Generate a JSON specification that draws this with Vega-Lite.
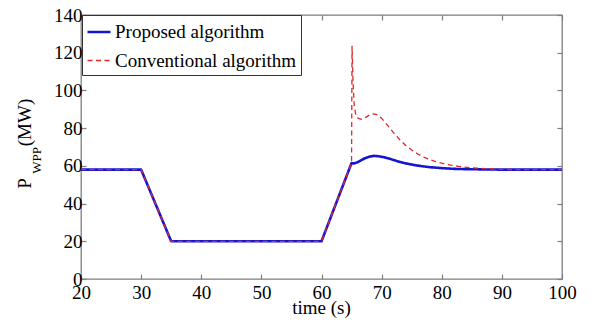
{
  "$schema": "https://vega.github.io/schema/vega-lite/v6.json",
  "width": 481,
  "height": 264,
  "autosize": "none",
  "padding": {"left": 81, "top": 15, "right": 29, "bottom": 51},
  "background": "white",
  "config": {
    "font": "Liberation Serif",
    "view": {"stroke": "#7f7f7f", "strokeWidth": 1.3},
    "axis": {
      "labelFont": "Liberation Serif",
      "titleFont": "Liberation Serif",
      "labelFontSize": 19,
      "titleFontSize": 19,
      "labelColor": "#000000",
      "titleColor": "#000000",
      "titleFontWeight": "normal",
      "labelFlush": false,
      "labelOverlap": false,
      "domain": false,
      "grid": false,
      "tickColor": "#7f7f7f",
      "tickWidth": 1.2
    }
  },
  "data": {
    "values": [
      {"t": 20, "P": 58, "s": "Proposed algorithm"},
      {"t": 30, "P": 58, "s": "Proposed algorithm"},
      {"t": 35, "P": 20, "s": "Proposed algorithm"},
      {"t": 60, "P": 20, "s": "Proposed algorithm"},
      {"t": 65, "P": 61.5, "s": "Proposed algorithm"},
      {"t": 65.4, "P": 61.3, "s": "Proposed algorithm"},
      {"t": 65.9, "P": 61.8, "s": "Proposed algorithm"},
      {"t": 66.5, "P": 62.8, "s": "Proposed algorithm"},
      {"t": 67.2, "P": 64.0, "s": "Proposed algorithm"},
      {"t": 68, "P": 64.9, "s": "Proposed algorithm"},
      {"t": 68.7, "P": 65.3, "s": "Proposed algorithm"},
      {"t": 69.5, "P": 65.1, "s": "Proposed algorithm"},
      {"t": 70.5, "P": 64.5, "s": "Proposed algorithm"},
      {"t": 71.5, "P": 63.6, "s": "Proposed algorithm"},
      {"t": 72.5, "P": 62.6, "s": "Proposed algorithm"},
      {"t": 73.5, "P": 61.7, "s": "Proposed algorithm"},
      {"t": 74.5, "P": 61.0, "s": "Proposed algorithm"},
      {"t": 75.5, "P": 60.4, "s": "Proposed algorithm"},
      {"t": 76.5, "P": 59.9, "s": "Proposed algorithm"},
      {"t": 78, "P": 59.3, "s": "Proposed algorithm"},
      {"t": 80, "P": 58.8, "s": "Proposed algorithm"},
      {"t": 82, "P": 58.4, "s": "Proposed algorithm"},
      {"t": 85, "P": 58.2, "s": "Proposed algorithm"},
      {"t": 90, "P": 58.0, "s": "Proposed algorithm"},
      {"t": 100, "P": 58.0, "s": "Proposed algorithm"},
      {"t": 20, "P": 58, "s": "Conventional algorithm"},
      {"t": 30, "P": 58, "s": "Conventional algorithm"},
      {"t": 35, "P": 20, "s": "Conventional algorithm"},
      {"t": 60, "P": 20, "s": "Conventional algorithm"},
      {"t": 65, "P": 61.5, "s": "Conventional algorithm"},
      {"t": 65.08, "P": 123.5, "s": "Conventional algorithm"},
      {"t": 65.25, "P": 104, "s": "Conventional algorithm"},
      {"t": 65.45, "P": 92, "s": "Conventional algorithm"},
      {"t": 65.7, "P": 87, "s": "Conventional algorithm"},
      {"t": 66.1, "P": 85.2, "s": "Conventional algorithm"},
      {"t": 66.7, "P": 84.6, "s": "Conventional algorithm"},
      {"t": 67.3, "P": 85.6, "s": "Conventional algorithm"},
      {"t": 68, "P": 87, "s": "Conventional algorithm"},
      {"t": 68.6, "P": 87.6, "s": "Conventional algorithm"},
      {"t": 69.2, "P": 87.2, "s": "Conventional algorithm"},
      {"t": 70, "P": 85.2, "s": "Conventional algorithm"},
      {"t": 71, "P": 81.5, "s": "Conventional algorithm"},
      {"t": 72, "P": 77.5, "s": "Conventional algorithm"},
      {"t": 73, "P": 74, "s": "Conventional algorithm"},
      {"t": 74, "P": 70.8, "s": "Conventional algorithm"},
      {"t": 75, "P": 68.4, "s": "Conventional algorithm"},
      {"t": 76, "P": 66.3, "s": "Conventional algorithm"},
      {"t": 77, "P": 64.6, "s": "Conventional algorithm"},
      {"t": 78, "P": 63.3, "s": "Conventional algorithm"},
      {"t": 79, "P": 62.3, "s": "Conventional algorithm"},
      {"t": 80, "P": 61.4, "s": "Conventional algorithm"},
      {"t": 81.5, "P": 60.4, "s": "Conventional algorithm"},
      {"t": 83, "P": 59.6, "s": "Conventional algorithm"},
      {"t": 85, "P": 59.0, "s": "Conventional algorithm"},
      {"t": 87, "P": 58.5, "s": "Conventional algorithm"},
      {"t": 90, "P": 58.1, "s": "Conventional algorithm"},
      {"t": 95, "P": 58.0, "s": "Conventional algorithm"},
      {"t": 100, "P": 58.0, "s": "Conventional algorithm"}
    ]
  },
  "layer": [
    {
      "transform": [{"filter": "datum.s === 'Proposed algorithm'"}],
      "mark": {"type": "line", "strokeJoin": "round"},
      "encoding": {
        "x": {
          "field": "t", "type": "quantitative",
          "scale": {"domain": [20, 100], "nice": false, "zero": false},
          "axis": {
            "values": [20, 30, 40, 50, 60, 70, 80, 90, 100],
            "labelFont": "Liberation Serif",
            "titleFont": "Liberation Serif",
            "tickSize": -5,
            "labelPadding": 9,
            "title": "time (s)",
            "titleX": 240,
            "titleY": 34,
            "titleAlign": "center",
            "titleBaseline": "alphabetic"
          }
        },
        "y": {
          "field": "P", "type": "quantitative",
          "scale": {"domain": [0, 140], "nice": false, "zero": false},
          "axis": {
            "values": [0, 20, 40, 60, 80, 100, 120, 140],
            "labelFont": "Liberation Serif",
            "titleFont": "Liberation Serif",
            "tickSize": -5,
            "labelPadding": 4,
            "title": "P",
            "titleAngle": -90,
            "titleX": -51,
            "titleY": 168,
            "titleAlign": "center",
            "titleBaseline": "alphabetic"
          }
        },
        "color": {
          "field": "s", "type": "nominal",
          "scale": {"domain": ["Proposed algorithm", "Conventional algorithm"], "range": ["#1414d2", "#dd2a2a"]},
          "legend": {
            "title": null,
            "orient": "none",
            "legendX": 1,
            "legendY": 0,
            "strokeColor": "#333333",
            "fillColor": "white",
            "padding": 4,
            "rowPadding": 6,
            "labelFont": "Liberation Serif",
            "labelFontSize": 19,
            "labelColor": "#000000",
            "labelLimit": 400,
            "labelOffset": 3,
            "symbolType": "stroke",
            "symbolSize": 529
          }
        },
        "strokeDash": {
          "field": "s", "type": "nominal",
          "scale": {"domain": ["Proposed algorithm", "Conventional algorithm"], "range": [[1, 0], [5, 3.5]]}
        },
        "strokeWidth": {
          "field": "s", "type": "nominal",
          "scale": {"domain": ["Proposed algorithm", "Conventional algorithm"], "range": [2.6, 1.3]}
        }
      }
    },
    {
      "transform": [{"filter": "datum.s === 'Conventional algorithm'"}],
      "mark": {"type": "line", "strokeJoin": "round"},
      "encoding": {
        "x": {
          "field": "t", "type": "quantitative",
          "scale": {"domain": [20, 100], "nice": false, "zero": false},
          "axis": {
            "orient": "bottom",
            "offset": -264,
            "values": [20, 30, 40, 50, 60, 70, 80, 90, 100],
            "labels": false,
            "tickSize": 5,
            "titleFont": "Liberation Serif",
            "title": "(MW)",
            "titleAngle": -90,
            "titleX": -51,
            "titleY": 107,
            "titleAlign": "center",
            "titleBaseline": "alphabetic"
          }
        },
        "y": {
          "field": "P", "type": "quantitative",
          "scale": {"domain": [0, 140], "nice": false, "zero": false},
          "axis": {
            "orient": "left",
            "offset": -481,
            "values": [0, 20, 40, 60, 80, 100, 120, 140],
            "labels": false,
            "tickSize": 5,
            "titleFont": "Liberation Serif",
            "title": "WPP",
            "titleFontSize": 13,
            "titleAngle": -90,
            "titleX": -522,
            "titleY": 145,
            "titleAlign": "center",
            "titleBaseline": "alphabetic"
          }
        },
        "color": {"field": "s", "type": "nominal"},
        "strokeDash": {"field": "s", "type": "nominal"},
        "strokeWidth": {"field": "s", "type": "nominal"}
      }
    }
  ],
  "resolve": {"scale": {"x": "independent", "y": "independent"}}
}
